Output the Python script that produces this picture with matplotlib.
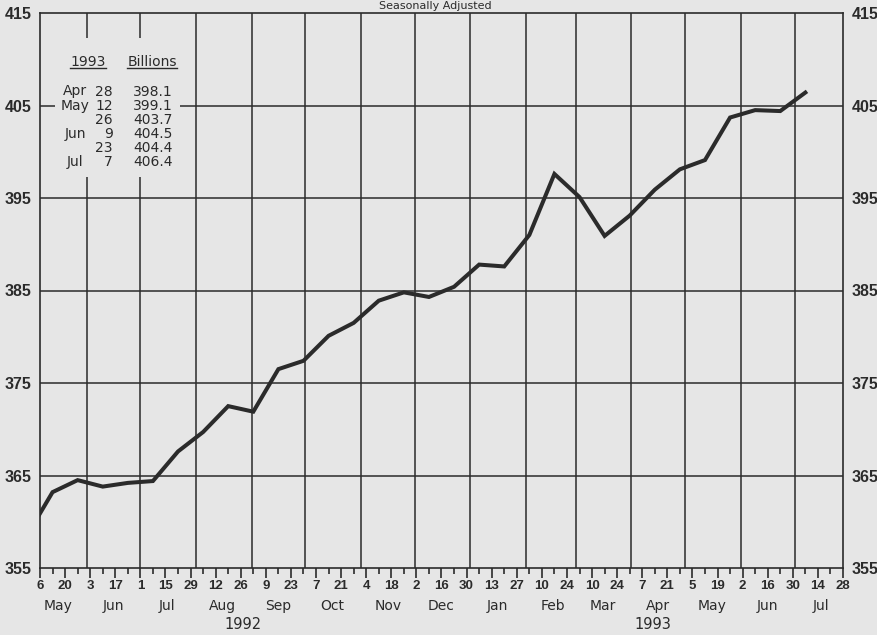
import numpy as np
import pandas as pd
import matplotlib
matplotlib.use('Agg')
import matplotlib.pyplot as plt
import matplotlib.dates as mdates
from matplotlib.patches import Rectangle
from matplotlib.lines import Line2D

# biweekly Wednesday readings, billions (seasonally adjusted)
dates = pd.date_range('1992-04-29', periods=32, freq='14D')
values = [358.6, 363.2, 364.5, 363.8, 364.2, 364.4, 367.6, 369.7,
          372.5, 371.9, 376.5, 377.4, 380.1, 381.5, 383.9, 384.8,
          384.3, 385.4, 387.8, 387.6, 391.0, 397.6, 395.1, 390.9,
          393.1, 395.9, 398.1, 399.1, 403.7, 404.5, 404.4, 406.4]

# inset table of latest readings
table_months = ['Apr', 'May', '', 'Jun', '', 'Jul']
table_days = ['28', '12', '26', '9', '23', '7']
table_values = ['398.1', '399.1', '403.7', '404.5', '404.4', '406.4']

yticks = [355, 365, 375, 385, 395, 405, 415]
month_names = ['May', 'Jun', 'Jul', 'Aug', 'Sep', 'Oct', 'Nov', 'Dec',
               'Jan', 'Feb', 'Mar', 'Apr', 'May', 'Jun', 'Jul']
month_mid = pd.date_range('1992-05-01', '1993-07-01', freq='MS') + pd.Timedelta(days=15)
years = ['1992', '1993']
year_pos = [pd.Timestamp('1992-08-27'), pd.Timestamp('1993-04-13')]

bg = '#e6e6e6'
ink = '#2b2b2b'
narrow = ['Liberation Sans', 'DejaVu Sans']

fig = plt.figure(figsize=(8.77, 6.35), dpi=100, facecolor=bg)
ax = fig.add_axes([40/877, 1 - 568/635, 803/877, 555/635])
ax.set_facecolor(bg)

x0 = pd.Timestamp('1992-05-06')
x1 = pd.Timestamp('1993-07-28')
ax.set_xlim(x0, x1)
ax.set_ylim(355, 415)

# grid: horizontal every 10, vertical at month starts
for v in yticks[1:-1]:
    ax.axhline(v, color=ink, lw=1.1, zorder=1)
for d in pd.date_range('1992-06-01', '1993-07-01', freq='MS'):
    ax.axvline(d, color=ink, lw=1.1, zorder=1)

# blank patch behind the inset table
ax.add_patch(Rectangle((0.019, 0.7045), 0.155, 0.2505, transform=ax.transAxes,
                       facecolor=bg, edgecolor='none', zorder=1.5))

ax.plot(dates, values, color=ink, lw=2.9, solid_joinstyle='miter', zorder=3)

for s in ax.spines.values():
    s.set_linewidth(1.2)
    s.set_color(ink)

major = pd.date_range(x0, x1, freq='14D')
minor = pd.date_range(x0, x1, freq='7D')
ax.set_xticks(mdates.date2num(major))
ax.set_xticks(mdates.date2num(minor), minor=True)
ax.set_xticklabels([str(d.day) for d in major], family=narrow,
                   fontweight='bold', fontsize=9.5, color=ink)
ax.tick_params(axis='x', which='major', length=7, width=1.2, pad=1.5, color=ink)
ax.tick_params(axis='x', which='minor', length=4, width=1.2, color=ink)

ax.set_yticks(yticks)
ax.set_yticklabels([str(v) for v in yticks], family=narrow,
                   fontweight='bold', fontsize=11.5, color=ink)
ax.tick_params(axis='y', length=0, pad=6, labelleft=True, labelright=True)

xt = ax.get_xaxis_transform()
for name, d in zip(month_names, month_mid):
    ax.text(mdates.date2num(d), -0.0685, name, transform=xt, ha='center',
            va='center', fontsize=10, color=ink)
for name, d in zip(years, year_pos):
    ax.text(mdates.date2num(d), -0.1027, name, transform=xt, ha='center',
            va='center', fontsize=10.5, color=ink)

fig.text(0.496, 1 - 9/635, 'Seasonally Adjusted', ha='center', va='baseline',
         fontsize=8, color=ink)

# inset table
W, H = 877, 635
hdr1 = fig.text(88/W, 1 - 62/H, '1993', ha='center', va='center', fontsize=10, color=ink)
hdr2 = fig.text(152/W, 1 - 62/H, 'Billions', ha='center', va='center', fontsize=10, color=ink)
for i in range(len(table_days)):
    yy = 1 - (91.5 + 14.1 * i) / H
    fig.text(75/W, yy, table_months[i], ha='center', va='center', fontsize=10, color=ink)
    fig.text(113/W, yy, table_days[i], ha='right', va='center', fontsize=10, color=ink)
    fig.text(173/W, yy, table_values[i], ha='right', va='center', fontsize=10, color=ink)

fig.canvas.draw()
inv = fig.transFigure.inverted()
for t in (hdr1, hdr2):
    bb = t.get_window_extent()
    (a, b), (c, _) = inv.transform([[bb.x0, bb.y0 + 1.5], [bb.x1, bb.y0]])
    fig.add_artist(Line2D([a, c], [b, b], color=ink, lw=1.0, transform=fig.transFigure))

fig.savefig('out.png', dpi=100, facecolor=bg)
